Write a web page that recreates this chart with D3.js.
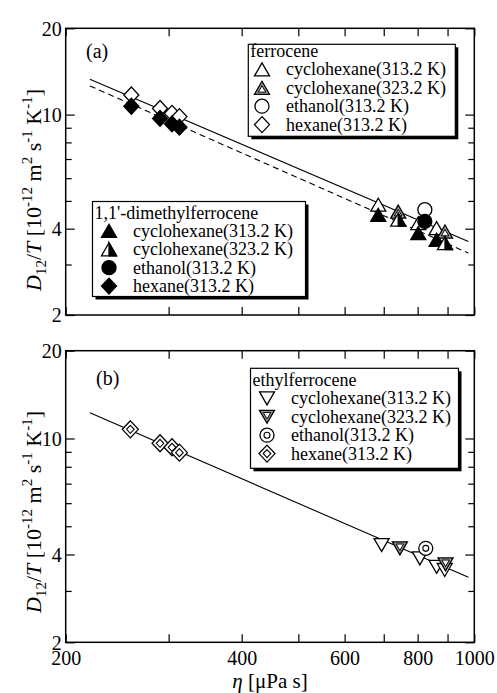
<!DOCTYPE html>
<html>
<head>
<meta charset="utf-8">
<script src="https://d3js.org/d3.v7.min.js"></script>
<style>
  body { margin: 0; background: #fff; }
</style>
</head>
<body>
<svg width="497" height="693"></svg>
<script>
// ---- data (eta in uPa s, D12/T in 1e-12 m2 s-1 K-1) ----
// panel (a): ferrocene (open) and 1,1'-dimethylferrocene (filled)
var fcCyc313 = [[685, 4.85], [802, 4.18], [862, 4.02]];
var fcCyc323 = [[741, 4.59], [891, 3.91]];
var fcEth313 = [[823, 4.66]];
var fcHex313 = [[259, 11.7], [290, 10.5], [304, 10.1], [313, 9.84]];

var dmCyc313 = [[685, 4.47], [802, 3.86], [862, 3.66]];
var dmCyc323 = [[741, 4.30], [891, 3.56]];
var dmEth313 = [[823, 4.24]];
var dmHex313 = [[259, 10.7], [290, 9.7], [304, 9.28], [313, 9.04]];

var fitFc = [[220, 13.28], [977, 3.61]];   // solid
var fitDm = [[220, 12.59], [977, 3.29]];   // dashed

// panel (b): ethylferrocene
var efCyc313 = [[694, 4.31], [807, 3.88], [862, 3.63], [890, 3.54]];
var efCyc323 = [[746, 4.20], [893, 3.70]];
var efEth313 = [[826, 4.20]];
var efHex313 = [[258, 10.75], [290, 9.63], [304, 9.33], [313, 8.94]];
var fitEf = [[220, 12.26], [977, 3.34]];

var etaMajor = [200, 400, 600, 800, 1000];
var etaMinor = [300, 500, 700, 900];
var dMajor = [2, 4, 10, 20];
var dMinor = [3, 5, 6, 7, 8, 9];

var legA1 = ["cyclohexane(313.2 K)", "cyclohexane(323.2 K)", "ethanol(313.2 K)", "hexane(313.2 K)"];

var SERIF = "'Liberation Serif'";
var svg = d3.select("svg");
var x = d3.scaleLog().domain([200, 1000]).range([65.7, 474.3]);
var yA = d3.scaleLog().domain([2, 20]).range([315, 28.3]);
var yB = d3.scaleLog().domain([2, 20]).range([642.3, 350.7]);

function txt(g, size) {
  return g.append("text").style("font-family", SERIF).style("font-size", size + "px").attr("fill", "#000");
}

// ---- marker drawing ----
function triPath(s, down) {
  var w = 7.5 * s, h = 13 * s, k = down ? -1 : 1;
  return "M0," + (-k * h / 2) + "L" + w + "," + (k * h / 2) + "L" + (-w) + "," + (k * h / 2) + "Z";
}
function marker(g, type, cx, cy) {
  var m = g.append("g").attr("transform", "translate(" + cx + "," + cy + ")");
  var sw = 1.3;
  if (type == "tri" || type == "triF") {
    m.append("path").attr("d", triPath(1, false))
      .attr("fill", type == "triF" ? "#000" : "#fff").attr("stroke", "#000").attr("stroke-width", sw);
  } else if (type == "tri2" || type == "dtri2") {
    var dn = type == "dtri2";
    m.append("path").attr("d", triPath(1, dn)).attr("fill", "#999").attr("stroke", "#000").attr("stroke-width", sw);
    var c = dn ? -13 / 6 : 13 / 6;
    m.append("path").attr("d", triPath(0.5, dn))
      .attr("transform", "translate(0," + (c * 0.5) + ")")
      .attr("fill", "#fff").attr("stroke", "#000").attr("stroke-width", 1);
  } else if (type == "triH") {
    m.append("path").attr("d", triPath(1, false)).attr("fill", "#fff").attr("stroke", "#000").attr("stroke-width", sw);
    m.append("path").attr("d", "M0,-6.5L7.5,6.5L0,6.5Z").attr("fill", "#000").attr("stroke", "#000").attr("stroke-width", sw);
  } else if (type == "dtri") {
    m.append("path").attr("d", triPath(1, true)).attr("fill", "#fff").attr("stroke", "#000").attr("stroke-width", sw);
  } else if (type == "circ" || type == "circF") {
    m.append("circle").attr("r", 7).attr("fill", type == "circF" ? "#000" : "#fff")
      .attr("stroke", "#000").attr("stroke-width", sw);
  } else if (type == "circ2") {
    m.append("circle").attr("r", 7).attr("fill", "#fff").attr("stroke", "#000").attr("stroke-width", sw);
    m.append("circle").attr("r", 3).attr("fill", "#fff").attr("stroke", "#000").attr("stroke-width", 1.1);
  } else if (type == "dia" || type == "diaF") {
    m.append("path").attr("d", "M0,-8L7.5,0L0,8L-7.5,0Z").attr("fill", type == "diaF" ? "#000" : "#fff")
      .attr("stroke", "#000").attr("stroke-width", sw);
  } else if (type == "dia2") {
    m.append("path").attr("d", "M0,-8.5L8,0L0,8.5L-8,0Z").attr("fill", "#fff").attr("stroke", "#000").attr("stroke-width", sw);
    m.append("path").attr("d", "M0,-4L3.8,0L0,4L-3.8,0Z").attr("fill", "#fff").attr("stroke", "#000").attr("stroke-width", 1.1);
  }
}
function series(g, y, data, type) {
  data.forEach(function(d) { marker(g, type, x(d[0]), y(d[1])); });
}

// ---- frame + ticks ----
function styleAxis(a) {
  a.select(".domain").remove();
  a.attr("font-family", SERIF).attr("font-size", 20);
  a.selectAll(".tick text").style("font-family", SERIF).style("font-size", "20px").attr("fill", "#000");
  a.selectAll(".tick line").attr("stroke", "#000").attr("stroke-width", 1.2);
  return a;
}
function frame(y) {
  var g = svg.append("g");
  var x0 = x.range()[0], x1 = x.range()[1], y0 = y.range()[1], y1 = y.range()[0];
  function ax(axis, t) {
    return styleAxis(g.append("g").attr("transform", t).call(axis));
  }
  ax(d3.axisBottom(x).tickValues(etaMajor.concat(etaMinor)).tickSizeInner(-8).tickSizeOuter(0).tickFormat(""), "translate(0," + y1 + ")");
  ax(d3.axisTop(x).tickValues(etaMajor.concat(etaMinor)).tickSizeInner(-8).tickSizeOuter(0).tickFormat(""), "translate(0," + y0 + ")");
  ax(d3.axisLeft(y).tickValues(dMajor).tickSizeInner(-9).tickSizeOuter(0).tickPadding(4).tickFormat(d3.format("d")), "translate(" + x0 + ",0)");
  ax(d3.axisLeft(y).tickValues(dMinor).tickSizeInner(-6).tickSizeOuter(0).tickFormat(""), "translate(" + x0 + ",0)");
  ax(d3.axisRight(y).tickValues(dMajor).tickSizeInner(-9).tickSizeOuter(0).tickFormat(""), "translate(" + x1 + ",0)");
  ax(d3.axisRight(y).tickValues(dMinor).tickSizeInner(-6).tickSizeOuter(0).tickFormat(""), "translate(" + x1 + ",0)");
  g.selectAll(".tick text").attr("dy", "0.34em");
  g.append("rect").attr("x", x0).attr("y", y0).attr("width", x1 - x0).attr("height", y1 - y0)
    .attr("fill", "none").attr("stroke", "#000").attr("stroke-width", 1.5);
  return g;
}

function fitLine(y, pts, dash) {
  svg.append("path")
    .attr("d", d3.line().x(function(d) { return x(d[0]); }).y(function(d) { return y(d[1]); })(pts))
    .attr("fill", "none").attr("stroke", "#000").attr("stroke-width", 1.1)
    .attr("stroke-dasharray", dash ? "6,4" : null);
}

function legend(bx, by, bw, bh, title, types, labels, sx, tx, ty0) {
  var g = svg.append("g");
  g.append("rect").attr("x", bx + 3).attr("y", by + 3).attr("width", bw).attr("height", bh).attr("fill", "#000");
  g.append("rect").attr("x", bx).attr("y", by).attr("width", bw).attr("height", bh)
    .attr("fill", "#fff").attr("stroke", "#000").attr("stroke-width", 1.2);
  txt(g, 18).attr("x", bx + 2).attr("y", ty0).text(title);
  labels.forEach(function(l, i) {
    var by2 = ty0 + 18.4 * (i + 1);
    marker(g, types[i], sx, by2 - 6);
    txt(g, 18).attr("x", tx).attr("y", by2).text(l);
  });
}

function yTitle(cy) {
  var t = txt(svg, 22).attr("transform", "translate(41," + cy + ") rotate(-90)").attr("text-anchor", "middle");
  function sp(s, o) {
    var e = t.append("tspan").text(s);
    if (o && o.it) e.style("font-style", "italic");
    if (o && o.sub) e.style("font-size", "15px").attr("dy", o.dy);
    else if (o && o.dy) e.attr("dy", o.dy);
  }
  sp("D", {it: 1}); sp("12", {sub: 1, dy: 5}); sp("/", {dy: -5}); sp("T", {it: 1});
  sp(" [10"); sp("-12", {sub: 1, dy: -9}); sp(" m", {dy: 9}); sp("2", {sub: 1, dy: -9});
  sp(" s", {dy: 9}); sp("-1", {sub: 1, dy: -9}); sp(" K", {dy: 9}); sp("-1", {sub: 1, dy: -9}); sp("]", {dy: 9});
}

// ---- panel (a) ----
frame(yA);
fitLine(yA, fitFc, false);
fitLine(yA, fitDm, true);
var gA = svg.append("g");
series(gA, yA, fcHex313, "dia");
series(gA, yA, fcCyc313, "tri");
series(gA, yA, fcCyc323, "tri2");
series(gA, yA, fcEth313, "circ");
series(gA, yA, dmHex313, "diaF");
series(gA, yA, dmCyc313, "triF");
series(gA, yA, dmCyc323, "triH");
series(gA, yA, dmEth313, "circF");
txt(svg, 20).attr("x", 86).attr("y", 58).text("(a)");
legend(248.3, 44.3, 207, 92, "ferrocene", ["tri", "tri2", "circ", "dia"], legA1, 262, 286, 57);
legend(92.5, 201.5, 213, 95, "1,1'-dimethylferrocene", ["triF", "triH", "circF", "diaF"], legA1, 109, 133, 218.5);
yTitle(190);

// ---- panel (b) ----
var fB = frame(yB);
styleAxis(fB.append("g").attr("transform", "translate(0," + yB.range()[0] + ")")
  .call(d3.axisBottom(x).tickValues(etaMajor).tickSize(0).tickPadding(9).tickFormat(d3.format("d"))));
fitLine(yB, fitEf, false);
var gB = svg.append("g");
series(gB, yB, efHex313, "dia2");
series(gB, yB, efCyc313, "dtri");
series(gB, yB, efCyc323, "dtri2");
series(gB, yB, efEth313, "circ2");
txt(svg, 20).attr("x", 96).attr("y", 385).text("(b)");
legend(250.5, 368.3, 208, 100, "ethylferrocene", ["dtri", "dtri2", "circ2", "dia2"], legA1, 267, 291, 386);
yTitle(512);

var xt = txt(svg, 21).attr("x", 270).attr("y", 688).attr("text-anchor", "middle");
xt.append("tspan").style("font-style", "italic").text("η");
xt.append("tspan").text(" [μPa s]");
</script>
</body>
</html>
